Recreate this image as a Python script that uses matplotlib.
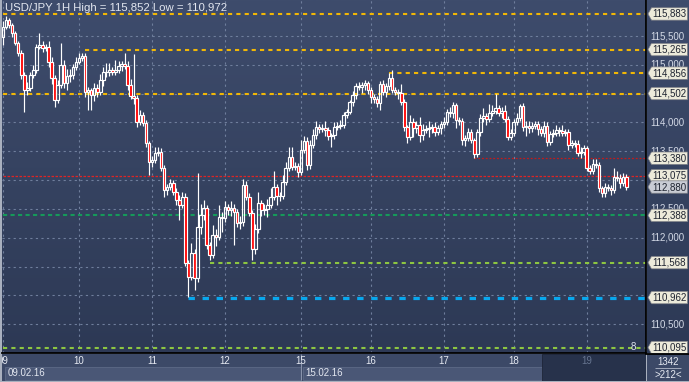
import matplotlib.pyplot as plt
import numpy as np
from matplotlib.patches import Rectangle, Polygon
from matplotlib.collections import LineCollection
from matplotlib.colors import LinearSegmentedColormap

W, H = 689, 382

title = 'USD/JPY 1H High = 115,852 Low = 110,972'

# hourly candles, open of each bar = close of previous bar
first_open = 115.48
closes = [
    115.66, 115.78, 115.69, 115.55, 115.38, 115.21, 114.82, 114.56, 114.60, 114.82,
    114.91, 115.31, 115.34, 115.29, 115.31, 115.05, 114.77, 114.39, 114.65, 115.00,
    114.68, 114.81, 114.82, 114.96, 115.05, 115.12, 115.15, 114.53, 114.56, 114.48,
    114.60, 114.53, 114.74, 114.88, 114.87, 114.91, 114.88, 114.91, 114.98, 115.01,
    114.98, 114.65, 114.46, 114.42, 114.01, 114.13, 113.99, 113.64, 113.31, 113.35,
    113.47, 113.49, 113.21, 112.83, 112.88, 112.95, 112.79, 112.65, 112.57, 112.71,
    111.56, 111.32, 111.73, 111.30, 112.18, 112.39, 112.51, 111.87, 111.70, 112.05,
    112.01, 112.36, 112.34, 112.53, 112.48, 112.51, 112.44, 112.25, 112.27, 112.91,
    112.71, 112.43, 111.80, 112.15, 112.60, 112.48, 112.50, 112.57, 112.71, 112.88,
    112.72, 112.73, 112.97, 113.21, 113.40, 113.23, 113.24, 113.14, 113.52, 113.68,
    113.26, 113.61, 113.78, 113.92, 113.89, 113.90, 113.87, 113.76, 113.78, 113.92,
    113.94, 113.96, 114.13, 114.18, 114.35, 114.48, 114.63, 114.62, 114.65, 114.68,
    114.56, 114.44, 114.41, 114.34, 114.67, 114.53, 114.63, 114.77, 114.56, 114.53,
    114.51, 114.35, 113.92, 113.75, 114.01, 113.90, 113.95, 113.78, 113.87, 113.89,
    113.90, 113.92, 113.83, 113.90, 113.97, 114.01, 114.18, 114.16, 114.30, 114.04,
    114.02, 113.69, 113.73, 113.83, 113.69, 113.45, 113.83, 114.08, 114.11, 114.06,
    114.16, 114.20, 114.25, 114.16, 114.20, 114.06, 113.75, 113.82, 114.01, 114.08,
    114.29, 113.92, 113.94, 113.90, 113.94, 113.97, 113.89, 113.82, 113.94, 113.66,
    113.80, 113.82, 113.87, 113.85, 113.82, 113.83, 113.61, 113.64, 113.63, 113.47,
    113.49, 113.56, 113.21, 113.16, 113.28, 113.26, 112.86, 112.77, 112.88, 112.86,
    112.83, 113.05, 113.04, 112.95, 113.05, 112.88,
]
# wick lengths in pips above / below the body
upper_wick = [
    10, 7, 4, 3, 4, 3, 5, 6, 10, 6,
    8, 5, 21, 8, 6, 10, 8, 5, 9, 38,
    8, 12, 10, 6, 8, 8, 6, 5, 6, 4,
    8, 6, 10, 9, 16, 12, 6, 17, 8, 6,
    20, 8, 10, 73, 5, 8, 6, 5, 4, 6,
    10, 8, 6, 5, 6, 7, 6, 8, 10, 8,
    6, 5, 17, 8, 94, 20, 14, 5, 6, 17,
    10, 21, 8, 10, 6, 12, 8, 6, 10, 11,
    8, 6, 5, 8, 19, 6, 8, 10, 15, 28,
    5, 6, 12, 10, 17, 18, 8, 6, 17, 8,
    6, 8, 11, 10, 6, 8, 13, 5, 4, 9,
    6, 8, 5, 6, 4, 6, 5, 8, 6, 5,
    4, 5, 6, 5, 5, 6, 5, 9, 14, 6,
    5, 16, 5, 4, 12, 6, 8, 15, 10, 6,
    12, 6, 8, 5, 6, 8, 6, 8, 5, 4,
    6, 5, 6, 8, 6, 4, 5, 6, 14, 6,
    16, 10, 24, 5, 6, 10, 5, 6, 5, 8,
    3, 5, 8, 9, 6, 5, 6, 5, 8, 6,
    5, 6, 8, 6, 10, 6, 5, 6, 5, 6,
    9, 5, 4, 6, 9, 8, 5, 4, 7, 6,
    5, 16, 10, 6, 8, 6,
]
lower_wick = [
    14, 4, 5, 6, 4, 5, 6, 38, 8, 6,
    5, 6, 4, 6, 5, 8, 10, 12, 6, 5,
    8, 12, 10, 6, 5, 4, 6, 8, 31, 27,
    10, 8, 6, 10, 8, 6, 5, 6, 5, 8,
    6, 8, 5, 10, 8, 6, 5, 6, 22, 8,
    6, 5, 6, 12, 8, 6, 5, 8, 26, 6,
    5, 35, 6, 21, 6, 11, 8, 6, 8, 6,
    16, 5, 24, 6, 8, 10, 57, 6, 10, 6,
    5, 6, 19, 8, 6, 10, 8, 14, 6, 5,
    15, 8, 6, 5, 6, 5, 6, 8, 6, 5,
    8, 6, 5, 6, 8, 6, 10, 6, 19, 6,
    5, 6, 5, 6, 4, 6, 8, 6, 10, 8,
    6, 10, 8, 7, 12, 6, 8, 6, 5, 6,
    10, 5, 6, 10, 6, 16, 8, 12, 8, 6,
    15, 8, 6, 5, 10, 6, 5, 6, 8, 14,
    6, 8, 10, 6, 5, 7, 5, 6, 8, 10,
    6, 5, 6, 5, 8, 6, 5, 6, 5, 6,
    5, 6, 15, 8, 6, 5, 10, 6, 8, 6,
    5, 6, 5, 8, 6, 5, 8, 6, 5, 6,
    8, 5, 6, 5, 6, 5, 6, 7, 6, 5,
    8, 5, 6, 8, 5, 6,
]

day_labels = ['09', '10', '11', '12', '15', '16', '17', '18', '19']
day_index = [0, 25, 49, 73, 98, 121, 145, 168, 192]
week_labels = ['09.02.16', '15.02.16']
week_index = [0, 98]
tick_prices = [110.5, 111.0, 111.5, 112.0, 112.5, 113.0, 113.5, 114.0, 114.5, 115.0, 115.5]

level_prices = [115.883, 115.265, 114.856, 114.502, 113.380, 113.075, 112.388, 111.568, 110.962, 110.095]
level_start = [0, 27, 127, 0, 155, 0, 0, 68, 61, 0]
current_price = 112.880
bars_total = '1342'
bars_shown = '>212<'

YMIN, YMAX = 110.0, 116.125
XMIN, XMAX = -0.33, 211.5

plt.rcParams['font.family'] = ['Liberation Sans', 'DejaVu Sans']


def px_box(x0, y0, x1, y1):
    return [x0 / W, 1 - y1 / H, (x1 - x0) / W, (y1 - y0) / H]


def fmt(p):
    return f'{p:.3f}'.replace('.', ',')


bg_cmap = LinearSegmentedColormap.from_list('bg', ['#2d3955', '#3e4c6c'])

fig = plt.figure(figsize=(W / 100, H / 100), dpi=100, facecolor='#a9b0be')

# ---- main chart
ax = fig.add_axes(px_box(2, 0, 646, 353))
ax.set_xlim(XMIN, XMAX)
ax.set_ylim(YMIN, YMAX)
ax.imshow(np.linspace(0, 1, 200).reshape(-1, 1), extent=[XMIN, XMAX, YMIN, YMAX],
          origin='lower', aspect='auto', cmap=bg_cmap, zorder=0)
ax.set_xticks([])
ax.set_yticks([])
for s in ['top', 'left']:
    ax.spines[s].set_visible(False)
ax.spines['right'].set_color('black')
ax.spines['right'].set_linewidth(1.3)
ax.spines['bottom'].set_color('black')
ax.spines['bottom'].set_linewidth(1.3)

grid_kw = dict(color='#6f7e9c', lw=0.8, ls=(0, (2, 3)), zorder=1)
for p in tick_prices:
    ax.axhline(p, **grid_kw)
for d in day_index:
    ax.axvline(d, **grid_kw)

# support / resistance levels
yellow = dict(color='#f2b705', lw=1.5, ls=(0, (2, 2)))
red_dot = dict(color='#c41a1a', lw=0.9, ls=(0, (1.5, 1.5)))
styles = [yellow, yellow, yellow, yellow, red_dot,
          dict(color='#e02424', lw=0.9, ls=(0, (2, 1.2))),
          dict(color='#16995a', lw=1.5, ls=(0, (2, 1.6))),
          dict(color='#8dc641', lw=1.5, ls=(0, (2, 2))),
          dict(color='#08a8ee', lw=2.3, ls=(0, (2, 2.4))),
          dict(color='#8dc641', lw=1.5, ls=(0, (2, 2)))]
for p, st, kw in zip(level_prices, level_start, styles):
    ax.hlines(p, max(st, XMIN), XMAX, zorder=2, **kw)

# candles
opens = [first_open] + closes[:-1]
wicks = []
for i, (o, c, uw, lw) in enumerate(zip(opens, closes, upper_wick, lower_wick)):
    top, bot = max(o, c), min(o, c)
    wicks.append([(i, top), (i, top + uw / 100)])
    wicks.append([(i, bot), (i, bot - lw / 100)])
    face = '#ff0000' if c < o else 'none'
    ax.add_patch(Rectangle((i - 0.42, bot), 0.84, max(top - bot, 0.004),
                           facecolor=face, edgecolor='white', lw=0.85, zorder=4))
ax.add_collection(LineCollection(wicks, colors='white', linewidths=0.85, zorder=3))

fig.text(5 / W, 1 - 8 / H, title, fontsize=8.2, color='#e3e7f0', va='center', ha='left')
fig.text(633 / W, 1 - 347 / H, '8', fontsize=7, color='#dfe4ee', va='center', ha='center')

# ---- price scale
ax2 = fig.add_axes(px_box(647, 0, 689, 353))
ax2.set_xlim(0, 42)
ax2.set_ylim(YMIN, YMAX)
ax2.imshow(np.linspace(0, 1, 200).reshape(-1, 1), extent=[0, 42, YMIN, YMAX],
           origin='lower', aspect='auto', cmap=bg_cmap, zorder=0)
ax2.set_axis_off()

tags = [(p, '#eceada') for p in level_prices] + [(current_price, '#c9ccd4')]
tag_prices = [p for p, _ in tags]
for p in tick_prices:
    # labels lying fully under a price tag are not drawn
    if min(abs(p - q) for q in tag_prices) < 0.09:
        continue
    ax2.text(3, p, fmt(p), fontsize=7, color='#d3d9e6', va='center', ha='left', zorder=1)

half = 6.2 / (353 / (YMAX - YMIN))
for p, col in tags:
    ax2.add_patch(Polygon([(1, p), (4.5, p + half), (40.5, p + half), (40.5, p - half),
                           (4.5, p - half)], closed=True, facecolor=col,
                          edgecolor='#7d7f86', lw=0.5, zorder=3))
    ax2.text(5.2, p, fmt(p), fontsize=7, color='#1e2330', va='center', ha='left', zorder=4)

# ---- time scale
ax3 = fig.add_axes(px_box(2, 354, 646, 381))
ax3.set_xlim(XMIN, XMAX)
ax3.set_ylim(27, 0)
ax3.set_axis_off()
ax3.add_patch(Rectangle((XMIN, 0), XMAX - XMIN, 27, facecolor='#3c4967', zorder=0))
dark_from = 177.3
band_edges = week_index + [dark_from]
for k, lab in enumerate(week_labels):
    x0, x1 = band_edges[k], band_edges[k + 1]
    ax3.add_patch(Rectangle((x0 + 0.6, 12.5), x1 - x0 - 0.6, 13.5, facecolor='#4a5776',
                            edgecolor='#5d6a87', lw=0.6, zorder=1))
    ax3.text(x0 + 1.6, 19.5, lab, fontsize=7, color='#e3e7f0', va='center', ha='left', zorder=3)
ax3.add_patch(Rectangle((dark_from, 0), XMAX - dark_from, 27, facecolor='#27324b',
                        edgecolor='#1d2538', lw=0.6, zorder=2))
ax3.vlines(week_index[1], 0, 26, color='#8893ab', lw=0.8, zorder=3)
for d, lab in zip(day_index, day_labels):
    col = '#66748f' if d > dark_from else '#e6eaf2'
    ax3.text(d, 7, lab, fontsize=7, color=col, va='center', ha='center', zorder=4, clip_on=True)

# ---- corner
ax4 = fig.add_axes(px_box(647, 354, 689, 381))
ax4.set_xlim(0, 1)
ax4.set_ylim(1, 0)
ax4.set_axis_off()
ax4.add_patch(Rectangle((0, 0), 1, 1, facecolor='#3c4967', zorder=0))
ax4.text(0.5, 0.28, bars_total, fontsize=7, color='#e6eaf2', ha='center', va='center')
ax4.hlines(0.52, 0.18, 0.82, color='#c9cfdc', lw=0.5)
ax4.text(0.5, 0.76, bars_shown, fontsize=7, color='#e6eaf2', ha='center', va='center')

# black separator under the price scale as well
fig.add_artist(plt.Line2D([646 / W, 1], [1 - 353.5 / H, 1 - 353.5 / H], color='black', lw=1.3))

fig.savefig('out.png', dpi=100, facecolor=fig.get_facecolor())
